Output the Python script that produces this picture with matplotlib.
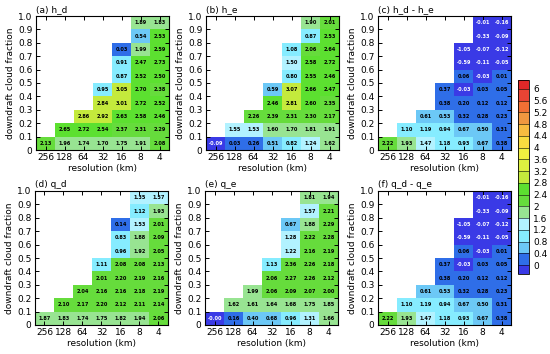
import numpy as np
import matplotlib
matplotlib.use("Agg")
from matplotlib import pyplot as plt
from matplotlib.colors import ListedColormap, BoundaryNorm
import matplotlib as mpl

# rows from bottom (fraction 0-0.1) to top (0.9-1.0), columns 256 ... 4 km
resolutions = ["256", "128", "64", "32", "16", "8", "4"]
fractions = ["0", "0.1", "0.2", "0.3", "0.4", "0.5", "0.6", "0.7", "0.8", "0.9", "1.0"]
N = None

h_d = [
    [2.13, 1.96, 1.74, 1.70, 1.75, 1.91, 2.08],
    [N, 2.65, 2.72, 2.54, 2.37, 2.31, 2.29],
    [N, N, 2.86, 2.92, 2.63, 2.58, 2.46],
    [N, N, N, 2.84, 3.01, 2.72, 2.52],
    [N, N, N, 0.95, 3.05, 2.70, 2.38],
    [N, N, N, N, 0.87, 2.52, 2.50],
    [N, N, N, N, 0.91, 2.47, 2.73],
    [N, N, N, N, 0.03, 1.99, 2.59],
    [N, N, N, N, N, 0.54, 2.53],
    [N, N, N, N, N, 1.89, 1.83],
]
h_e = [
    [-0.09, 0.03, 0.26, 0.51, 0.82, 1.24, 1.62],
    [N, 1.55, 1.53, 1.60, 1.70, 1.81, 1.91],
    [N, N, 2.26, 2.39, 2.31, 2.30, 2.17],
    [N, N, N, 2.46, 2.81, 2.60, 2.35],
    [N, N, N, 0.59, 3.07, 2.66, 2.47],
    [N, N, N, N, 0.80, 2.55, 2.46],
    [N, N, N, N, 1.50, 2.58, 2.72],
    [N, N, N, N, 1.08, 2.06, 2.64],
    [N, N, N, N, N, 0.87, 2.53],
    [N, N, N, N, N, 1.90, 2.01],
]
h_diff = [
    [2.22, 1.93, 1.47, 1.18, 0.93, 0.67, 0.38],
    [N, 1.10, 1.19, 0.94, 0.67, 0.50, 0.31],
    [N, N, 0.61, 0.53, 0.32, 0.28, 0.23],
    [N, N, N, 0.38, 0.20, 0.12, 0.12],
    [N, N, N, 0.37, -0.03, 0.03, 0.05],
    [N, N, N, N, 0.06, -0.03, 0.01],
    [N, N, N, N, -0.59, -0.11, -0.05],
    [N, N, N, N, -1.05, -0.07, -0.12],
    [N, N, N, N, N, -0.33, -0.09],
    [N, N, N, N, N, -0.01, -0.16],
]
q_d = [
    [1.87, 1.83, 1.74, 1.75, 1.82, 1.94, 2.06],
    [N, 2.10, 2.17, 2.20, 2.12, 2.11, 2.14],
    [N, N, 2.04, 2.16, 2.16, 2.18, 2.19],
    [N, N, N, 2.01, 2.20, 2.19, 2.16],
    [N, N, N, 1.11, 2.08, 2.08, 2.13],
    [N, N, N, N, 0.96, 1.92, 2.05],
    [N, N, N, N, 0.83, 1.88, 2.09],
    [N, N, N, N, 0.14, 1.53, 2.01],
    [N, N, N, N, N, 1.12, 1.93],
    [N, N, N, N, N, 1.35, 1.57],
]
q_e = [
    [-0.001, 0.16, 0.40, 0.68, 0.96, 1.31, 1.66],
    [N, 1.62, 1.61, 1.64, 1.68, 1.75, 1.85],
    [N, N, 1.99, 2.06, 2.09, 2.07, 2.00],
    [N, N, N, 2.06, 2.27, 2.26, 2.12],
    [N, N, N, 1.13, 2.36, 2.26, 2.18],
    [N, N, N, N, 1.22, 2.16, 2.19],
    [N, N, N, N, 1.28, 2.22, 2.28],
    [N, N, N, N, 0.67, 1.88, 2.29],
    [N, N, N, N, N, 1.57, 2.21],
    [N, N, N, N, N, 1.81, 1.94],
]
# panel (f) in the original shows the same numbers as (c)
q_diff = h_diff

panels = [("(a) h_d", h_d), ("(b) h_e", h_e), ("(c) h_d - h_e", h_diff),
          ("(d) q_d", q_d), ("(e) q_e", q_e), ("(f) q_d - q_e", q_diff)]

levels = np.round(np.arange(0, 6.01, 0.4), 2)
colors = ["#3a3ae6", "#2f6ee8", "#6cc8f6", "#86ecff", "#b2f2ff", "#98e492",
          "#66dc3c", "#5ce030", "#c4ea3c", "#dcf040", "#f0f040", "#f8dc40",
          "#f8bc40", "#f09840", "#f07034", "#e84434", "#e02828"]
cmap = ListedColormap(colors[1:-1])
cmap.set_under(colors[0])
cmap.set_over(colors[-1])
norm = BoundaryNorm(levels, cmap.N)

fig = plt.figure(figsize=(5.5, 3.54), dpi=100)
W, H = 550.0, 354.0


def rect(x0, y0, w, h):
    return [x0 / W, 1 - (y0 + h) / H, w / W, h / H]


spots = [(36, 16), (206, 16), (378, 16), (35, 191), (205, 191), (378, 191)]
xe = np.arange(8)
ye = np.linspace(0, 1, 11)

for (title, rows), (px, py) in zip(panels, spots):
    ax = fig.add_axes(rect(px, py, 133, 134))
    z = np.array([[np.nan if v is None else v for v in r] for r in rows])
    ax.pcolormesh(xe, ye, np.ma.masked_invalid(z), cmap=cmap, norm=norm)
    for i in range(z.shape[0]):
        for j in range(z.shape[1]):
            v = z[i, j]
            if np.isnan(v):
                continue
            ax.text(j + 0.5, (i + 0.5) / 10, f"{v:.2f}", ha="center", va="center",
                    fontsize=3.6, fontweight="bold",
                    color="white" if v < 0 else "black")
    ax.set_xlim(0, 7)
    ax.set_ylim(0, 1)
    ax.set_xticks(xe[:-1] + 0.5)
    ax.set_xticklabels(resolutions)
    ax.set_yticks(ye)
    ax.set_yticklabels(fractions)
    ax.tick_params(direction="in", length=3, width=0.7, labelsize=6.5,
                   top=True, right=True, pad=2.5)
    for s in ax.spines.values():
        s.set_linewidth(0.8)
    ax.set_xlabel("resolution (km)", fontsize=6.5, labelpad=1)
    ax.set_ylabel("downdraft cloud fraction", fontsize=6.5, labelpad=2)
    ax.text(0.0, 1.015, title, transform=ax.transAxes, fontsize=6.5,
            ha="left", va="bottom")

cax = fig.add_axes(rect(518, 80, 11, 194))
cb = mpl.colorbar.ColorbarBase(cax, cmap=cmap, norm=norm, boundaries=np.concatenate([[-0.4], levels, [6.4]]),
                               extend="both", extendrect=True, ticks=levels,
                               drawedges=True, spacing="uniform")
cb.ax.set_yticklabels([f"{v:g}" for v in levels])
cb.ax.tick_params(length=0, labelsize=6.5, pad=3)
cb.outline.set_linewidth(0.6)
cb.dividers.set_linewidth(0.4)

fig.savefig("out.png", dpi=100)
